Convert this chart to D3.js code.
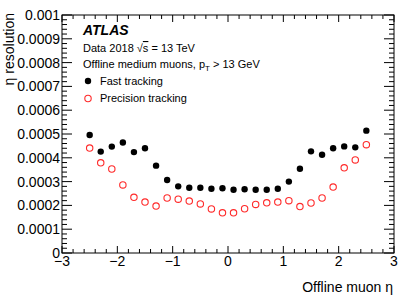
<!DOCTYPE html>
<html>
<head>
<meta charset="utf-8">
<script src="https://cdn.jsdelivr.net/npm/d3@7"></script>
<style>
  body { margin: 0; background: #fff; }
  svg text { font-family: "Liberation Sans", Arial, sans-serif; fill: #000; }
</style>
</head>
<body>
<svg id="chart" width="415" height="298"></svg>
<script>
var etaBins = [-2.5, -2.3, -2.1, -1.9, -1.7, -1.5, -1.3, -1.1, -0.9, -0.7, -0.5, -0.3, -0.1,
               0.1, 0.3, 0.5, 0.7, 0.9, 1.1, 1.3, 1.5, 1.7, 1.9, 2.1, 2.3, 2.5];

var fastRes = [0.000496, 0.000426, 0.000447, 0.000464, 0.000424, 0.000440, 0.000367, 0.000307,
               0.000280, 0.000274, 0.000274, 0.000270, 0.000272, 0.000266, 0.000268, 0.000266,
               0.000266, 0.000270, 0.000300, 0.000354, 0.000427, 0.000413, 0.000440, 0.000448,
               0.000444, 0.000514];

var precRes = [0.000441, 0.000379, 0.000353, 0.000286, 0.000234, 0.000214, 0.000197, 0.000231,
               0.000226, 0.000218, 0.000206, 0.000185, 0.000169, 0.000169, 0.000186, 0.000204,
               0.000211, 0.000214, 0.000220, 0.000195, 0.000210, 0.000231, 0.000277, 0.000358,
               0.000391, 0.000455];

var xTicks = [-3, -2, -1, 0, 1, 2, 3];
var yTicks = [0, 0.0001, 0.0002, 0.0003, 0.0004, 0.0005, 0.0006, 0.0007, 0.0008, 0.0009, 0.001];
var yTickLabels = ["0", "0.0001", "0.0002", "0.0003", "0.0004", "0.0005",
                   "0.0006", "0.0007", "0.0008", "0.0009", "0.001"];

var svg = d3.select("#chart");
// frame edges (note: "top" is reserved on window)
var fLeft = 62, fRight = 394, fTop = 15, fBottom = 253;

var x = d3.scaleLinear().domain([-3, 3]).range([fLeft, fRight]);
var y = d3.scaleLinear().domain([0, 0.001]).range([fBottom, fTop]);

// minor ticks, 5 divisions per major
var xMinor = d3.range(-3, 3.0001, 0.2).filter(function (v) { return Math.abs(v - Math.round(v)) > 1e-6; });
var yMinor = d3.range(0, 0.0010001, 0.00002).filter(function (v) {
    return Math.abs(v / 0.0001 - Math.round(v / 0.0001)) > 1e-6;
});

var frame = svg.append("g");

frame.append("rect")
    .attr("x", fLeft).attr("y", fTop)
    .attr("width", fRight - fLeft).attr("height", fBottom - fTop)
    .attr("fill", "none").attr("stroke", "#000").attr("stroke-width", 1);

var tickG = frame.append("g").attr("stroke", "#000").attr("stroke-width", 1);

xTicks.forEach(function (t) {
    tickG.append("line").attr("x1", x(t)).attr("x2", x(t)).attr("y1", fBottom).attr("y2", fBottom - 7);
    tickG.append("line").attr("x1", x(t)).attr("x2", x(t)).attr("y1", fTop).attr("y2", fTop + 7);
});
xMinor.forEach(function (t) {
    tickG.append("line").attr("x1", x(t)).attr("x2", x(t)).attr("y1", fBottom).attr("y2", fBottom - 4);
    tickG.append("line").attr("x1", x(t)).attr("x2", x(t)).attr("y1", fTop).attr("y2", fTop + 4);
});
yTicks.forEach(function (t) {
    tickG.append("line").attr("y1", y(t)).attr("y2", y(t)).attr("x1", fLeft).attr("x2", fLeft + 10);
    tickG.append("line").attr("y1", y(t)).attr("y2", y(t)).attr("x1", fRight).attr("x2", fRight - 10);
});
yMinor.forEach(function (t) {
    tickG.append("line").attr("y1", y(t)).attr("y2", y(t)).attr("x1", fLeft).attr("x2", fLeft + 5);
    tickG.append("line").attr("y1", y(t)).attr("y2", y(t)).attr("x1", fRight).attr("x2", fRight - 5);
});

// tick labels
svg.append("g").selectAll("text").data(xTicks).enter().append("text")
    .attr("x", function (d) { return x(d); })
    .attr("y", 266)
    .attr("text-anchor", "middle")
    .attr("font-size", 14)
    .text(function (d) { return d < 0 ? "\u2212" + Math.abs(d) : d; });

svg.append("g").selectAll("text").data(yTicks).enter().append("text")
    .attr("x", fLeft - 2)
    .attr("y", function (d) { return y(d) + 5; })
    .attr("text-anchor", "end")
    .attr("font-size", 14)
    .text(function (d, i) { return yTickLabels[i]; });

// axis titles
svg.append("text")
    .attr("x", 393).attr("y", 292)
    .attr("text-anchor", "end")
    .attr("font-size", 14)
    .text("Offline muon \u03b7");

svg.append("text")
    .attr("transform", "translate(14,13) rotate(-90)")
    .attr("text-anchor", "end")
    .attr("font-size", 14)
    .text("\u03b7 resolution");

// points
svg.append("g").selectAll("circle").data(etaBins).enter().append("circle")
    .attr("cx", function (d) { return x(d); })
    .attr("cy", function (d, i) { return y(fastRes[i]); })
    .attr("r", 3.2)
    .attr("fill", "#000");

svg.append("g").selectAll("circle").data(etaBins).enter().append("circle")
    .attr("cx", function (d) { return x(d); })
    .attr("cy", function (d, i) { return y(precRes[i]); })
    .attr("r", 3.2)
    .attr("fill", "none")
    .attr("stroke", "#ff2a2a")
    .attr("stroke-width", 1.1);

// labels
svg.append("text")
    .attr("x", 83).attr("y", 35)
    .attr("font-size", 14)
    .attr("font-weight", "bold")
    .attr("font-style", "italic")
    .text("ATLAS");

var dataLbl = svg.append("text").attr("x", 83).attr("y", 52).attr("font-size", 11);
dataLbl.append("tspan").text("Data 2018 \u221a");
dataLbl.append("tspan").attr("text-decoration", "overline").text("s");
dataLbl.append("tspan").text(" = 13 TeV");

var selLbl = svg.append("text").attr("x", 83).attr("y", 68).attr("font-size", 11);
selLbl.append("tspan").text("Offline medium muons, p");
selLbl.append("tspan").attr("font-size", 8).attr("dy", 3).text("T");
selLbl.append("tspan").attr("dy", -3).text(" > 13 GeV");

svg.append("circle").attr("cx", 88).attr("cy", 81).attr("r", 3.2).attr("fill", "#000");
svg.append("text").attr("x", 100).attr("y", 85).attr("font-size", 11).text("Fast tracking");

svg.append("circle").attr("cx", 88).attr("cy", 98.5).attr("r", 3.2)
    .attr("fill", "none").attr("stroke", "#ff2a2a").attr("stroke-width", 1.1);
svg.append("text").attr("x", 100).attr("y", 102).attr("font-size", 11).text("Precision tracking");
</script>
</body>
</html>
